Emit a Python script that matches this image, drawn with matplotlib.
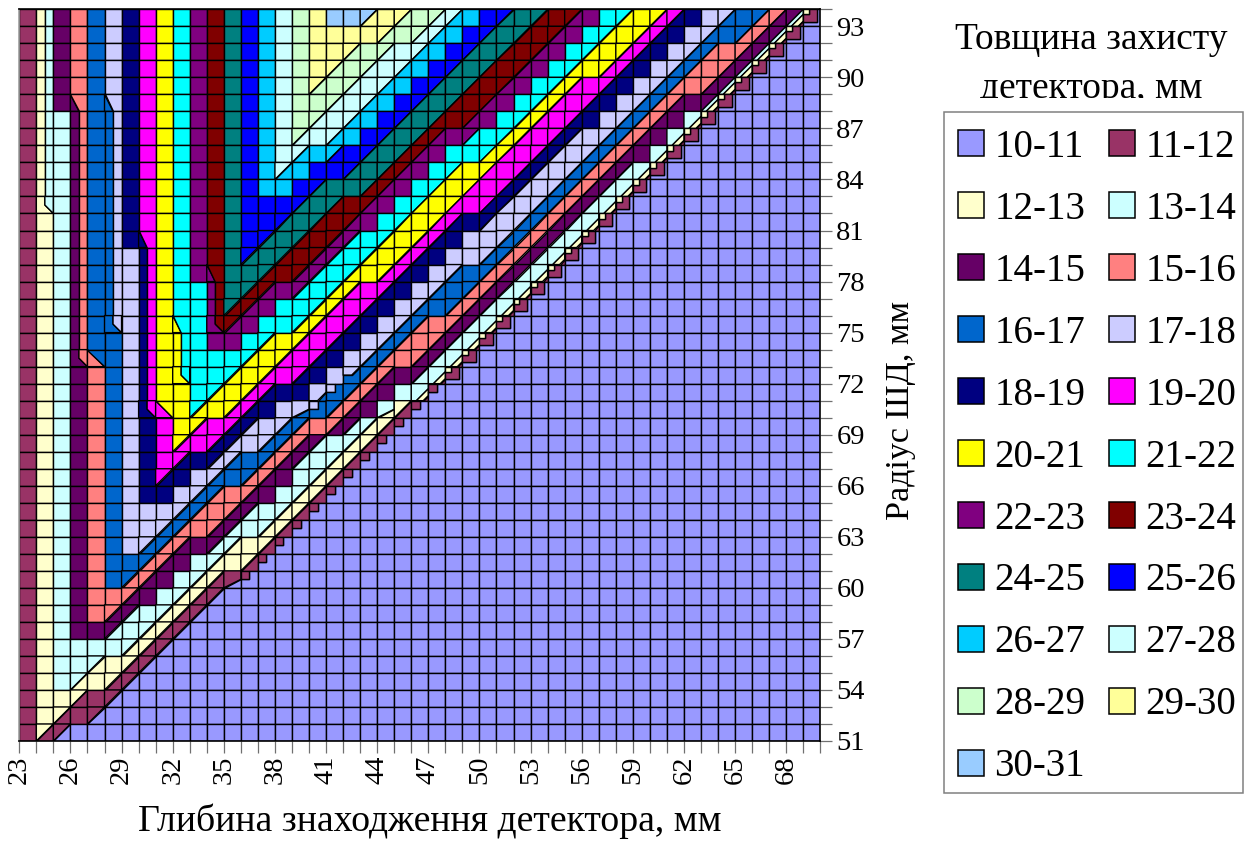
import matplotlib
matplotlib.use('Agg')
import matplotlib.pyplot as plt
from matplotlib.collections import PolyCollection
from matplotlib.patches import Patch, Rectangle

plt.rcParams['font.family'] = ['Liberation Serif', 'DejaVu Serif']

W, H = 1249, 841

band_labels = ['10-11', '11-12', '12-13', '13-14', '14-15', '15-16', '16-17', '17-18', '18-19', '19-20', '20-21',
               '21-22', '22-23', '23-24', '24-25', '25-26', '26-27', '27-28', '28-29', '29-30', '30-31']
band_colors = ['#9999FF', '#993366', '#FFFFCC', '#CCFFFF', '#660066', '#FF8080', '#0066CC', '#CCCCFF', '#000080',
               '#FF00FF', '#FFFF00', '#00FFFF', '#800080', '#800000', '#008080', '#0000FF', '#00CCFF', '#CCFFFF',
               '#CCFFCC', '#FFFF99', '#99CCFF']
band_keys = 'abcdefghijklmnopqrstu'

x_ticks = [23, 26, 29, 32, 35, 38, 41, 44, 47, 50, 53, 56, 59, 62, 65, 68]
y_ticks = [51, 54, 57, 60, 63, 66, 69, 72, 75, 78, 81, 84, 87, 90, 93]

# one line per row of cells from the top (R=94) down, one token per cell of depth 23..70
# x/y = two bands split along the diagonal, # and * are the squeezed contours at the edge
rows = [
    r"b c|d e f g h i j k l m n o p q r s t u u u/t t t/s s s/r r/q q p p/o o o/n n n/m m l l/k k k/j j/i i h h/g g g/f f/e e# *",
    r"b c|d e f g h i j k l m n o p q r s t t t t t/s s s/r r/q q p p/o o o/n n n/m m l l/k k k/j j/i i h h/g g g/f f/e e# * a",
    r"b c|d e f g h i j k l m n o p q r s t t t/s s s/r r r/q q p p/o o o/n n n/m m l l/k k k/j j/i i h h/g g/f f f/e e# * a a",
    r"b c|d e f g h i j k l m n o p q r s t t/s s s/r r r/q q p p/o o o/n n n/m m l l/k k k/j j/i i h h/g g/f f f/e e# * a a a",
    r"b c|d e f g h i j k l m n o p q r s t/s s s/r r r/q q p p/o o o/n n n/m m l l/k k/j j j/i i h h/g g/f f f/e e# * a a a a",
    r"b c|d e e\f g g\h i j k l m n o p q r s s s/r r r/q q p p/o o o/n n n/m m l l/k k/j j j/i i h h/g g/f f/e e e# * a a a a a",
    r"b c|d d e|f g g|h i j k l m n o p q r s s/r r r/q q p p/o o o/n n n/m m l l/k k/j j j/i i h h/g g/f f/e e d# * a a a a a a",
    r"b c|d d e|f g g|h i j k l m n o p q r s/r r r/q q p p/o o o/n n/m m m/l l l/k k/j j j/i i/h h h/g g/f f/e e d# * a a a a a a a",
    r"b c|d d e|f g g|h i j k l m n o p q r r/q q q/p p p/o o o/n n/m m l l l/k k/j j j/i i/h h h/g g/f f/e e d# * a a a a a a a a",
    r"b c|d d e|f g g|h i j k l m n o p q r/q q p p p/o o o/n n/m m l l/k k k/j j j/i i/h h h/g g/f f/e e/d d# * a a a a a a a a a",
    r"b c|d d e|f g g|h i j k l m n o p q q p p/o o o o/n n/m m l l/k k k/j j j/i i/h h h/g g/f f/e e/d d# * a a a a a a a a a a",
    r"b c`d d e|f g g|h i j k l m n o p p p p/o o o/n n n/m m l l/k k k/j j j/i i/h h h/g g/f f/e e/d d# * a a a a a a a a a a a",
    r"b c d e|f g g|h i j k l m n o p p p/o o o/n n n/m m l l/k k k/j j/i i i/h h h/g g/f f/e e/d d# * a a a a a a a a a a a a",
    r"b c d e|f g g|h i i\j k l m n o p p/o o o/n n n/m m/l l l/k k k/j j/i i h h h/g g/f f/e e/d d# * a a a a a a a a a a a a a",
    r"b c d e|f g g|h h i|j k l m n o p/o o o/n n n/m m/l l l/k k k/j j/i i h h h/g g/f f/e e/d d# * a a a a a a a a a a a a a a",
    r"b c d e|f g g|h h i|j k l m m\n o o o/n n n/m m/l l l/k k k/j j/i i h h/g g g/f f/e e/d d# * a a a a a a a a a a a a a a a",
    r"b c d e|f g g|h h i|j k l l m|n o o/n n/m m m/l l l/k k/j j j/i i h h/g g g/f f/e e/d d# * a a a a a a a a a a a a a a a a",
    r"b c d e|f g g|h h i|j k l l m|n o/n n/m m l l l/k k/j j j/i i h h/g g g/f f/e e/d d# * a a a a a a a a a a a a a a a a a",
    r"b c d e|f g g`h h i|j k k\l l m`n n/m m l l l/k k/j j j/i i h h/g g/f f f/e e/d d# * a a a a a a a a a a a a a a a a a a",
    r"b c d e|f g g h i|j k k|l l m m l l/k k k/j j j/i i h h/g g/f f f/e e/d d# * a a a a a a a a a a a a a a a a a a a",
    r"b c d e`f f~g g h i|j k k|l l l l l/k k k/j j j/i i h h/g g/f f f/e e/d d# * a a a a a a a a a a a a a a a a a a a a",
    r"b c d e f g h i|j k k`l l l l/k k k/j j j/i i h h_g g/f f/e e e/d d# * a a a a a a a a a a a a a a a a a a a a a",
    r"b c d e f g h i|j k k l l/k k k/j j/i i i h:g h^g g/f f/e e d d# % a a a a a a a a a a a a a a a a a a a a a a",
    r"b c d e f g h i`j j~k k l/k k k/j j/i i h h;g h^g g/f f/e e d;c c/b % a a a a a a a a a a a a a a a a a a a a a a a",
    r"b c d e f g h i j k k/j j j/i i/h h h/g g/f f f/e e/d d/c c/b % a a a a a a a a a a a a a a a a a a a a a a a a",
    r"b c d e f g h i j k/j j j/i i/h h h/g g/f f/e e/d d d/c c/b % a a a a a a a a a a a a a a a a a a a a a a a a a",
    r"b c d e f g h i j j/i i i/h h/g g g/f f/e e/d d d/c c/b % a a a a a a a a a a a a a a a a a a a a a a a a a a",
    r"b c d e f g h i j/i i h h/g g g/f f/e e d d/c c/b % a a a a a a a a a a a a a a a a a a a a a a a a a a a",
    r"b c d e f g h i i h h/g g/f f f/e e d d/c c/b % a a a a a a a a a a a a a a a a a a a a a a a a a a a a",
    r"b c d e f g h h h h/g g/f f f/e e/d d d/c c/b % a a a a a a a a a a a a a a a a a a a a a a a a a a a a a",
    r"b c d e f g h h h/g g/f f f/e e/d d d/c c/b % a a a a a a a a a a a a a a a a a a a a a a a a a a a a a a",
    r"b c d e f g h h/g g/f f/e e e/d d/c c c/b % a a a a a a a a a a a a a a a a a a a a a a a a a a a a a a a",
    r"b c d e f g g g/f f/e e d d/c c c/b % a a a a a a a a a a a a a a a a a a a a a a a a a a a a a a a a",
    r"b c d e f g g/f f/e e d d/c c/b b;a % a a a a a a a a a a a a a a a a a a a a a a a a a a a a a a a a a",
    r"b c d e f f f/e e d d/c c/b b/a a a a a a a a a a a a a a a a a a a a a a a a a a a a a a a a a a a a",
    r"b c d e f f/e e/d d d/c c/b b/a a a a a a a a a a a a a a a a a a a a a a a a a a a a a a a a a a a a a",
    r"b c d e e e/d d d/c c/b b/a a a a a a a a a a a a a a a a a a a a a a a a a a a a a a a a a a a a a a",
    r"b c d d d d d/c c/b b/a a a a a a a a a a a a a a a a a a a a a a a a a a a a a a a a a a a a a a a",
    r"b c d d d/c c c/b b/a a a a a a a a a a a a a a a a a a a a a a a a a a a a a a a a a a a a a a a a",
    r"b c d d/c c c/b b/a a a a a a a a a a a a a a a a a a a a a a a a a a a a a a a a a a a a a a a a a",
    r"b c c c/b b b/a a a a a a a a a a a a a a a a a a a a a a a a a a a a a a a a a a a a a a a a a a",
    r"b c c/b b b/a a a a a a a a a a a a a a a a a a a a a a a a a a a a a a a a a a a a a a a a a a a",
    r"b c/b b/a a a a a a a a a a a a a a a a a a a a a a a a a a a a a a a a a a a a a a a a a a a a a",
]

# cell shapes, (u, v) inside a cell with v going down
SPLITS = {
    '/': [[(0, 0), (1, 0), (0, 1)], [(1, 0), (1, 1), (0, 1)]],
    '|': [[(0, 0), (.5, 0), (.5, 1), (0, 1)], [(.5, 0), (1, 0), (1, 1), (.5, 1)]],
    '\\': [[(0, 0), (.5, 1), (0, 1)], [(0, 0), (1, 0), (1, 1), (.5, 1)]],
    '`': [[(0, 0), (.5, 0), (.5, .5), (1, 1), (0, 1)], [(.5, 0), (1, 0), (1, 1), (.5, .5)]],
    '~': [[(0, 0), (1, 1), (0, 1)], [(0, 0), (1, 0), (1, 1)]],
    '^': [[(0, 0), (.5, 0), (.5, .5), (0, .5)], [(.5, 0), (1, 0), (1, 1), (0, 1), (0, .5), (.5, .5)]],
    '_': [[(0, 0), (1, 0), (.5, .5), (0, .5)], [(1, 0), (1, 1), (0, 1), (0, .5), (.5, .5)]],
    ':': [[(0, 0), (1, 0), (1, .5), (.5, 1), (0, 1)], [(1, .5), (1, 1), (.5, 1)]],
    ';': [[(0, 0), (1, 0), (1, .5), (0, 1)], [(1, .5), (1, 1), (0, 1)]],
}
UNIT = [(0, 0), (1, 0), (1, 1), (0, 1)]
TRI = [(0, 0), (1, 0), (0, 1)]
SLIVER = [(1, 0), (1, .3), (.3, 1), (0, 1)]
THICK = [(0, 0), (1, 0), (1, .3), (.3, 1), (0, 1)]
THIN_C = [(1, .3), (1, .7), (.7, 1), (.3, 1)]
CORNER = [(1, .7), (1, 1), (.7, 1)]


def cell_parts(tok):
    if len(tok) == 1 and tok in band_keys:
        return [(tok, UNIT)]
    if tok == '*':
        return [('a', [(.8, 0), (1, 0), (1, 1), (0, 1), (0, .72), (.8, .72)]),
                ('b', [(.35, 0), (.8, 0), (.8, .72), (0, .72), (0, .3), (.35, .3)]),
                ('c', [(0, 0), (.35, 0), (.35, .3), (0, .3)])]
    if tok == '%':
        return [('a', [(.5, 0), (1, 0), (1, 1), (0, 1), (0, .5), (.5, .5)]),
                ('b', [(0, 0), (.5, 0), (.5, .5), (0, .5)])]
    if tok == 'e#':
        return [('e', TRI), ('d', SLIVER), ('c', THIN_C), ('b', CORNER)]
    if tok == 'd#':
        return [('d', THICK), ('c', THIN_C), ('b', CORNER)]
    first, second = SPLITS[tok[1]]
    return [(tok[0], first), (tok[2], second)]


fig = plt.figure(figsize=(W / 100, H / 100), dpi=100)
ax = fig.add_axes([19.3 / W, 1 - 741 / H, (820.3 - 19.3) / W, (741 - 9.3) / H])

polys, colors = [], []
for j, row in enumerate(rows):
    for i, tok in enumerate(row.split()[:47]):
        for key, shape in cell_parts(tok):
            polys.append([(23 + i + u, 94 - j - v) for u, v in shape])
            colors.append(band_colors[band_keys.index(key)])
ax.add_collection(PolyCollection(polys, facecolors=colors, edgecolors='black', linewidths=1.0))

ax.set_xlim(23, 70)
ax.set_ylim(51, 94)
ax.set_xticks(range(23, 71), minor=True)
ax.set_yticks(range(51, 95), minor=True)
ax.set_xticks(x_ticks)
ax.set_yticks(y_ticks)
ax.yaxis.tick_right()
ax.tick_params(which='both', length=8.5, width=0.9, color='#707070')
ax.tick_params(axis='x', which='major', labelsize=20.5, labelrotation=90, pad=2)
ax.tick_params(axis='y', which='major', labelsize=20.5, pad=3)
for s in ax.spines.values():
    s.set_linewidth(1.2)
ax.spines['left'].set_color('#a0a0a0')

ax.set_xlabel('Глибина знаходження детектора, мм', fontsize=27.2)
ax.xaxis.set_label_coords(0.512, -0.0855)
ax.yaxis.set_label_position('right')
ax.set_ylabel('Радіус ШД, мм', fontsize=24.5)
ax.yaxis.set_label_coords(1.081, 0.452)

fig.text(1091 / W, 1 - 40 / H, 'Товщина захисту', fontsize=27, ha='center', va='center')
fig.text(1091 / W, 1 - 89 / H, 'детектора, мм', fontsize=27, ha='center', va='center')
fig.add_artist(Rectangle((940 / W, 1 - 111 / H), 305 / W, 13 / H, transform=fig.transFigure, facecolor='white',
                         edgecolor='none', zorder=5))
fig.add_artist(Rectangle((944 / W, 1 - 793 / H), 299 / W, 681 / H, transform=fig.transFigure, facecolor='none',
                         edgecolor='#808080', linewidth=1.1, zorder=6))

# row-wise order of the reference, the legend itself fills by column
handles = [Patch(facecolor=c, edgecolor='black', linewidth=1.1, label=l) for c, l in zip(band_colors, band_labels)]
leg = fig.legend(handles=handles[::2] + handles[1::2], ncol=2, fontsize=28, loc='upper left',
                 bbox_to_anchor=(944 / W, 1 - 115 / H), bbox_transform=fig.transFigure, borderaxespad=0,
                 frameon=False, handlelength=0.67, handleheight=0.645, handletextpad=0.27, columnspacing=0.6,
                 labelspacing=0.641, borderpad=0.36)

fig.savefig('out.png', dpi=100)
